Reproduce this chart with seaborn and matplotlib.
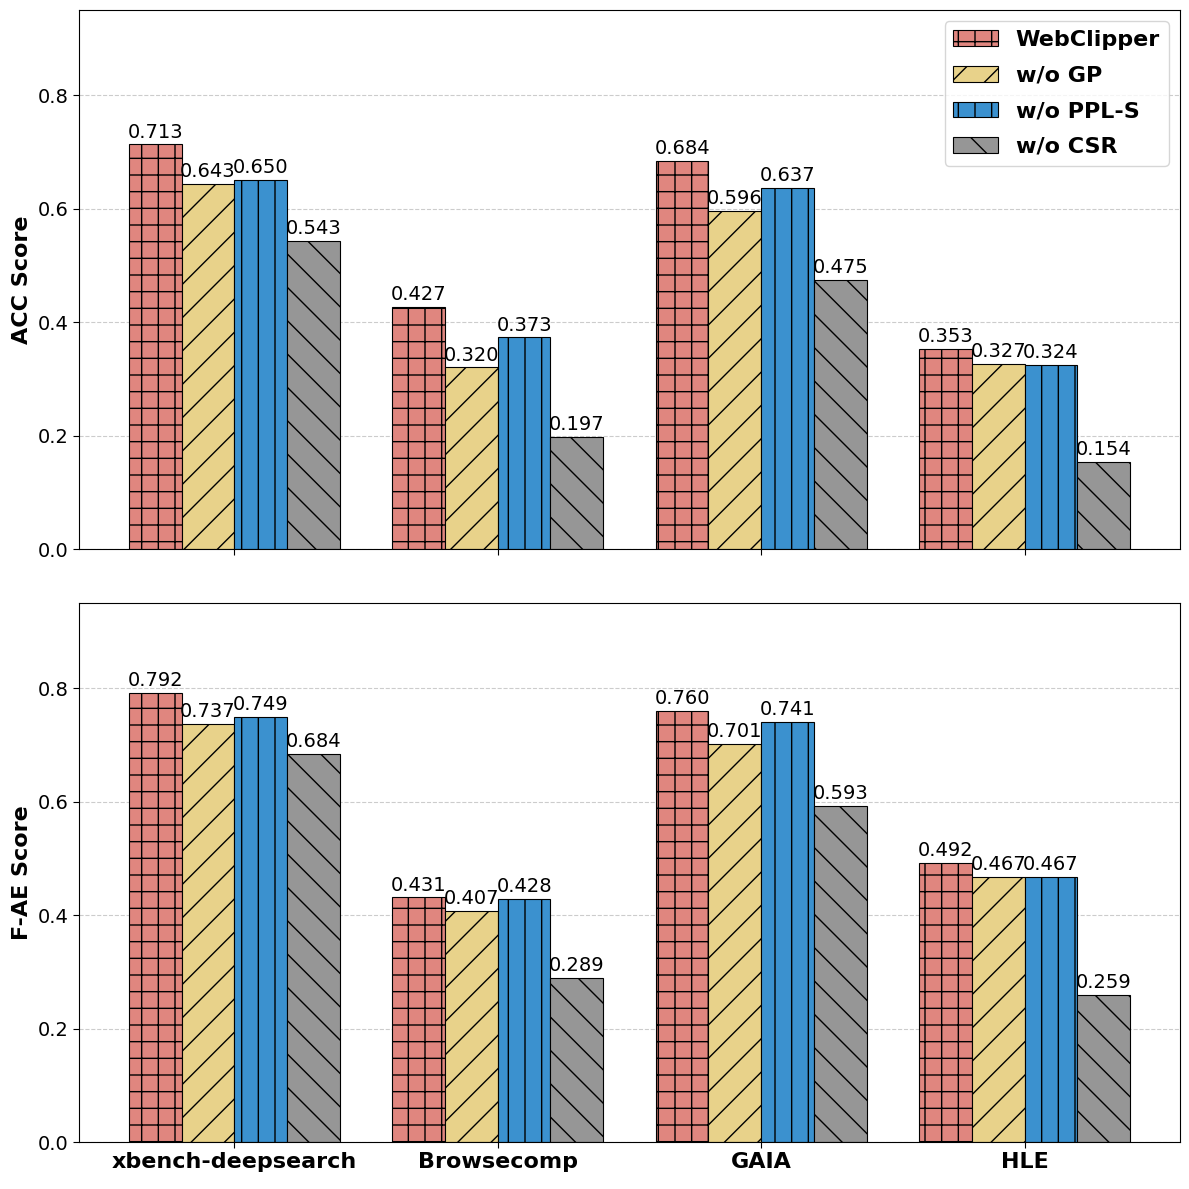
import matplotlib
matplotlib.use("Agg")
import matplotlib.pyplot as plt
import seaborn as sns
import pandas as pd
from matplotlib.patches import Patch

benchmarks = ["xbench-deepsearch", "Browsecomp", "GAIA", "HLE"]
methods = ["WebClipper", "w/o GP", "w/o PPL-S", "w/o CSR"]
acc = {
    "WebClipper": [0.713, 0.427, 0.684, 0.353],
    "w/o GP": [0.643, 0.320, 0.596, 0.327],
    "w/o PPL-S": [0.650, 0.373, 0.637, 0.324],
    "w/o CSR": [0.543, 0.197, 0.475, 0.154],
}
fae = {
    "WebClipper": [0.792, 0.431, 0.760, 0.492],
    "w/o GP": [0.737, 0.407, 0.701, 0.467],
    "w/o PPL-S": [0.749, 0.428, 0.741, 0.467],
    "w/o CSR": [0.684, 0.289, 0.593, 0.259],
}
colors = ["#E0867F", "#E8D28A", "#3B91CF", "#969696"]
hatches = ["+", "/", "|", "\\"]

sns.set_style("white")
plt.rcParams["font.family"] = ["DejaVu Sans"]
plt.rcParams["hatch.linewidth"] = 1.0
plt.rcParams["text.color"] = "black"
plt.rcParams["axes.labelcolor"] = "black"
plt.rcParams["xtick.color"] = "black"
plt.rcParams["ytick.color"] = "black"

def to_df(d):
    rows = []
    for m in methods:
        for b, v in zip(benchmarks, d[m]):
            rows.append({"benchmark": b, "method": m, "value": v})
    return pd.DataFrame(rows)

fig, axes = plt.subplots(2, 1, figsize=(11.89, 11.89), dpi=100, sharex=True)
for ax, data, ylabel in zip(axes, [acc, fae], ["ACC Score", "F-AE Score"]):
    df = to_df(data)
    sns.barplot(data=df, x="benchmark", y="value", hue="method", order=benchmarks,
                hue_order=methods, palette=colors, saturation=1, ax=ax,
                edgecolor="black", linewidth=0.8, legend=False, errorbar=None)
    for i, cont in enumerate(ax.containers):
        for p in cont:
            p.set_hatch(hatches[i])
            p.set_edgecolor("black")
        ax.bar_label(cont, labels=[f"{v:.3f}" for v in data[methods[i]]],
                     padding=2, fontsize=14, color="black")
    ax.set_ylim(0, 0.95)
    ax.set_xlim(-0.59, 3.59)
    ax.set_ylabel(ylabel, fontsize=16, fontweight="bold")
    ax.set_xlabel("")
    ax.yaxis.grid(True, linestyle="--", color="#cccccc", linewidth=0.8)
    ax.set_axisbelow(True)
    ax.tick_params(axis="y", labelsize=14, left=True, length=4)
    ax.tick_params(axis="x", bottom=True, length=4)
    for s in ax.spines.values():
        s.set_color("black")
        s.set_linewidth(0.8)

axes[1].set_xticks(range(len(benchmarks)))
axes[1].set_xticklabels(benchmarks, fontsize=16, fontweight="bold")

handles = [Patch(facecolor=c, edgecolor="black", hatch=h, label=m, linewidth=0.8)
           for c, h, m in zip(colors, hatches, methods)]
axes[0].legend(handles=handles, loc="upper right", prop={"size": 16, "weight": "bold"},
               handlelength=2.0, labelspacing=0.7)

fig.subplots_adjust(left=0.0664, right=0.9924, top=0.9916, bottom=0.0395, hspace=0.1)
fig.savefig("out.png", dpi=100)
